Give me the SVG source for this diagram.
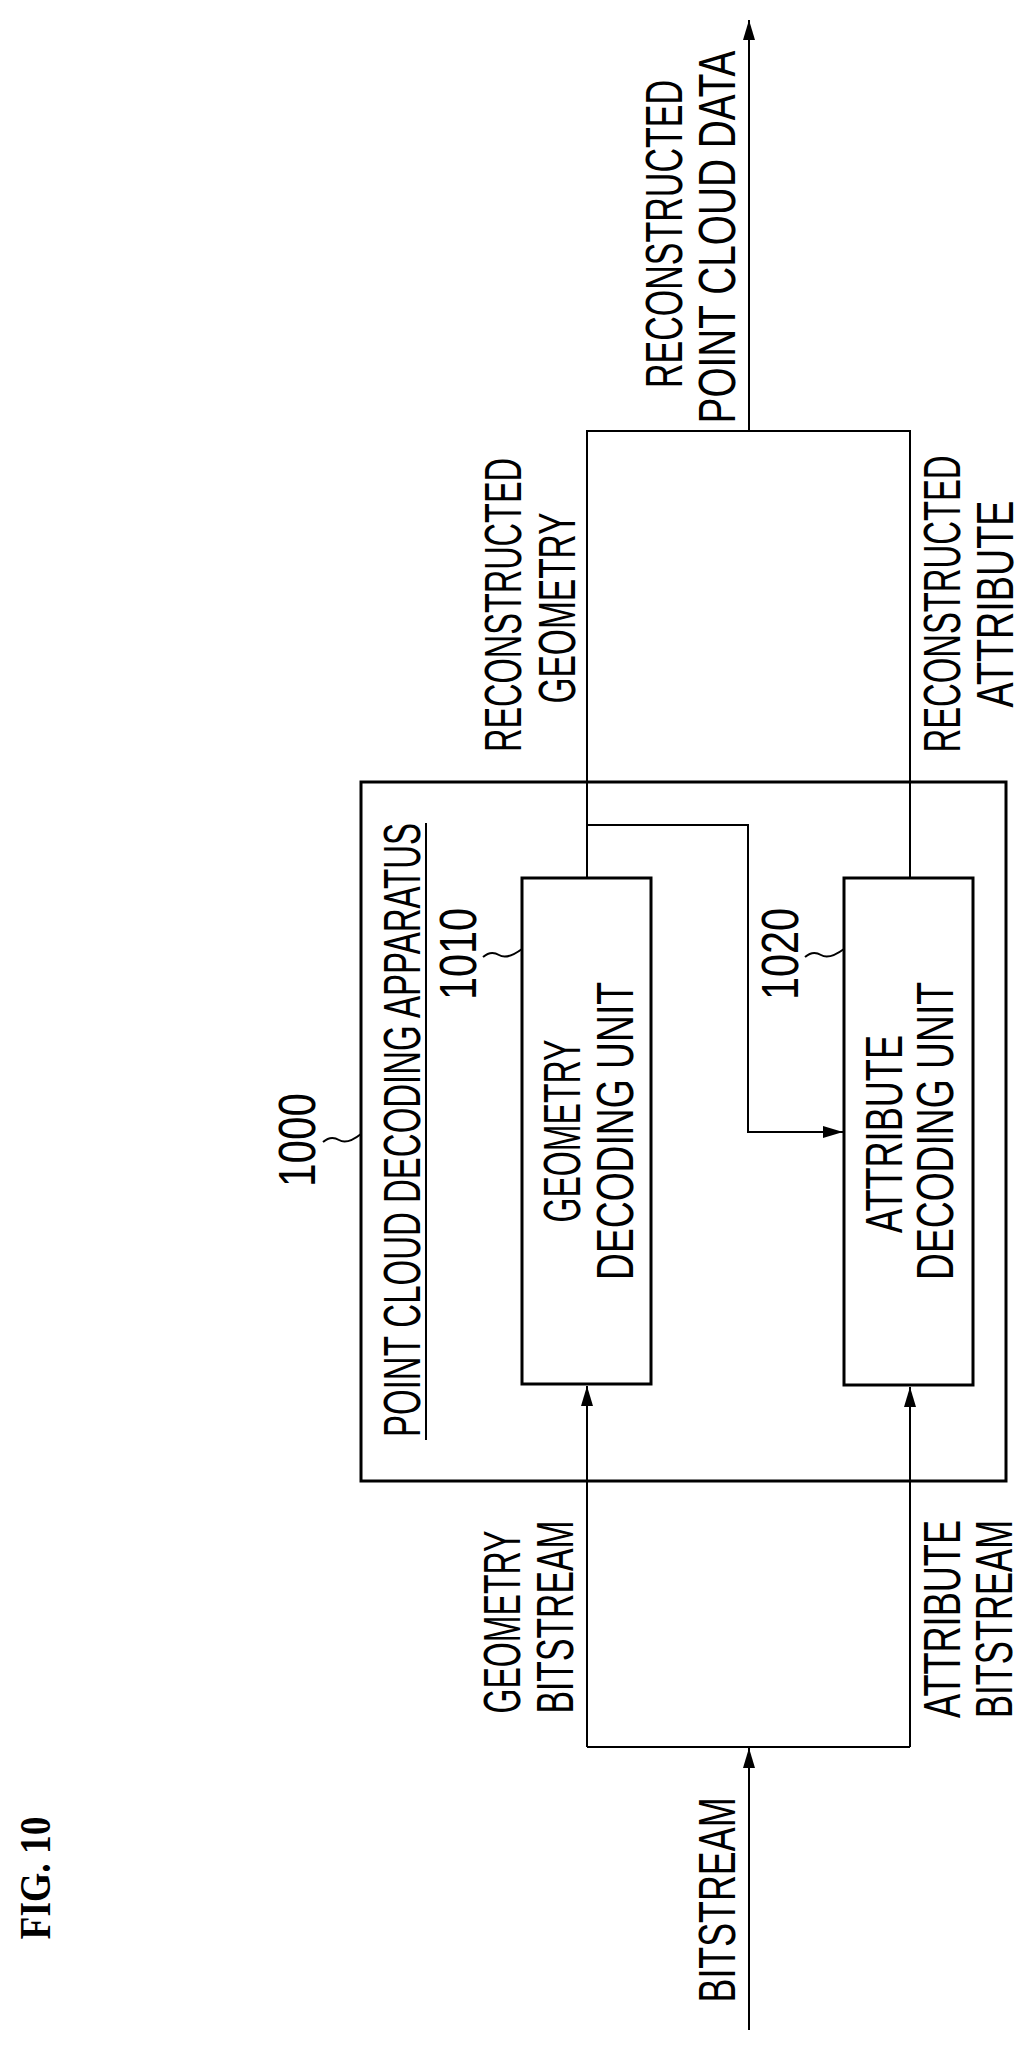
<svg xmlns="http://www.w3.org/2000/svg" width="1035" height="2052" viewBox="0 0 1035 2052">
<defs>
<style>
.t{font-family:"Liberation Sans",Arial,sans-serif;font-size:51px;fill:#000;text-anchor:middle}
.f{font-family:"Liberation Serif","Times New Roman",serif;font-size:44px;font-weight:bold;text-anchor:middle}
.l{fill:none;stroke:#000;stroke-width:2}
.b{fill:#fff;stroke:#000;stroke-width:3}
</style>
<marker id="a" viewBox="0 0 20 12" refX="20" refY="6" markerWidth="20" markerHeight="12" markerUnits="userSpaceOnUse" orient="auto"><path d="M0,0 L20,6 L0,12 Z" fill="#000"/></marker>
</defs>
<rect width="1035" height="2052" fill="#fff"/>
<text class="f" transform="translate(50,1878) rotate(-90)" textLength="123" lengthAdjust="spacingAndGlyphs">FIG. 10</text>
<g id="n1000">
<rect class="b" x="361" y="782" width="645" height="699"/>
<text class="t" transform="translate(420,1130) rotate(-90)" textLength="614" lengthAdjust="spacingAndGlyphs">POINT CLOUD DECODING APPARATUS</text>
<line class="l" x1="426" y1="823" x2="426" y2="1440"/>
<text class="t" transform="translate(315,1140) rotate(-90)" textLength="94" lengthAdjust="spacingAndGlyphs">1000</text>
<path class="l" d="M323,1142 q8,-7 16,-2 t22,-6"/>
</g>
<g id="n1010">
<rect class="b" x="522" y="878" width="129" height="506"/>
<text class="t" transform="translate(580,1131) rotate(-90)" textLength="183" lengthAdjust="spacingAndGlyphs">GEOMETRY</text>
<text class="t" transform="translate(633,1131) rotate(-90)" textLength="298" lengthAdjust="spacingAndGlyphs">DECODING UNIT</text>
<text class="t" transform="translate(476,954) rotate(-90)" textLength="92" lengthAdjust="spacingAndGlyphs">1010</text>
<path class="l" d="M483,957 q8,-7 16,-2 t23,-6"/>
</g>
<g id="n1020">
<rect class="b" x="844" y="878" width="129" height="507"/>
<text class="t" transform="translate(902,1134) rotate(-90)" textLength="198" lengthAdjust="spacingAndGlyphs">ATTRIBUTE</text>
<text class="t" transform="translate(953,1131) rotate(-90)" textLength="298" lengthAdjust="spacingAndGlyphs">DECODING UNIT</text>
<text class="t" transform="translate(798,954) rotate(-90)" textLength="92" lengthAdjust="spacingAndGlyphs">1020</text>
<path class="l" d="M805,957 q8,-7 16,-2 t23,-6"/>
</g>
<g id="connectors">
<line class="l" x1="749" y1="2030" x2="749" y2="1748" marker-end="url(#a)"/>
<polyline class="l" points="587,1747 910,1747"/>
<line class="l" x1="587" y1="1747" x2="587" y2="1386" marker-end="url(#a)"/>
<line class="l" x1="910" y1="1747" x2="910" y2="1387" marker-end="url(#a)"/>
<polyline class="l" points="587,878 587,431 910,431 910,878"/>
<line class="l" x1="749" y1="431" x2="749" y2="20" marker-end="url(#a)"/>
<polyline class="l" points="587,825 748,825 748,1132 843,1132" marker-end="url(#a)"/>
</g>
<g id="labels">
<text class="t" transform="translate(735,1900) rotate(-90)" textLength="205" lengthAdjust="spacingAndGlyphs">BITSTREAM</text>
<text class="t" transform="translate(520,1622) rotate(-90)" textLength="183" lengthAdjust="spacingAndGlyphs">GEOMETRY</text>
<text class="t" transform="translate(573,1617) rotate(-90)" textLength="193" lengthAdjust="spacingAndGlyphs">BITSTREAM</text>
<text class="t" transform="translate(960,1619) rotate(-90)" textLength="198" lengthAdjust="spacingAndGlyphs">ATTRIBUTE</text>
<text class="t" transform="translate(1012,1619) rotate(-90)" textLength="198" lengthAdjust="spacingAndGlyphs">BITSTREAM</text>
<text class="t" transform="translate(521,605) rotate(-90)" textLength="294" lengthAdjust="spacingAndGlyphs">RECONSTRUCTED</text>
<text class="t" transform="translate(575,608) rotate(-90)" textLength="191" lengthAdjust="spacingAndGlyphs">GEOMETRY</text>
<text class="t" transform="translate(960,604) rotate(-90)" textLength="297" lengthAdjust="spacingAndGlyphs">RECONSTRUCTED</text>
<text class="t" transform="translate(1013,604) rotate(-90)" textLength="207" lengthAdjust="spacingAndGlyphs">ATTRIBUTE</text>
<text class="t" transform="translate(682,234) rotate(-90)" textLength="308" lengthAdjust="spacingAndGlyphs">RECONSTRUCTED</text>
<text class="t" transform="translate(735,237) rotate(-90)" textLength="373" lengthAdjust="spacingAndGlyphs">POINT CLOUD DATA</text>
</g>
</svg>
